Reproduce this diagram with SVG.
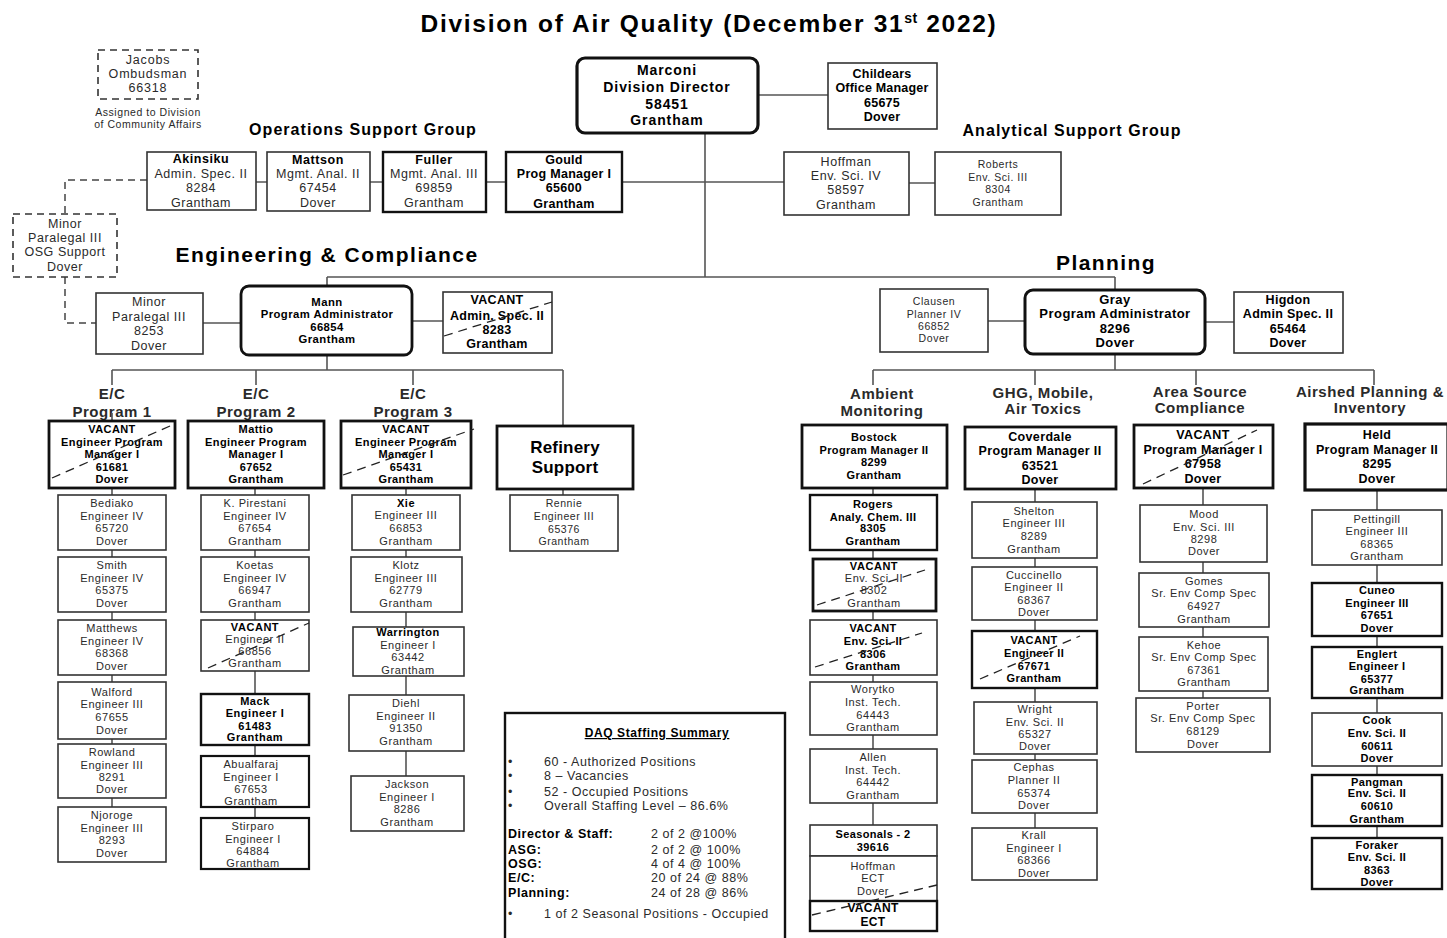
<svg xmlns="http://www.w3.org/2000/svg" width="1447" height="938" viewBox="0 0 1447 938">
<style>
.n{fill:#fff;stroke:#333;stroke-width:1.6}
.k{fill:#fff;stroke:#111;stroke-width:2.8}
.d{fill:#fff;stroke:#333;stroke-width:1.6;stroke-dasharray:7 5}
.v{fill:none;stroke:#222;stroke-width:1.3;stroke-dasharray:9 6}
.c{fill:none;stroke:#555;stroke-width:1.6}
.cd{fill:none;stroke:#444;stroke-width:1.5;stroke-dasharray:7 5}
text{font-family:"Liberation Sans",Arial,Helvetica,sans-serif;text-anchor:middle;fill:#2a2a2a;letter-spacing:0.55px}
.s{font-size:11px}.m{font-size:12.5px}.x{font-size:10.5px}.l{font-size:15px;letter-spacing:0.4px}
.b{font-weight:bold;fill:#000}
.st{text-anchor:start}
.sum{font-size:12.5px;letter-spacing:0.65px}
</style>
<rect width="1447" height="938" fill="#fff"/>
<text x="709" y="32" class="b" style="font-size:24.5px;letter-spacing:1.7px">Division of Air Quality (December 31<tspan dy="-9" style="font-size:14px;letter-spacing:0.5px">st</tspan><tspan dy="9"> 2022)</tspan></text>
<text x="363" y="135" class="b" style="font-size:16px;letter-spacing:1.05px">Operations Support Group</text>
<text x="1072" y="136" class="b" style="font-size:16px;letter-spacing:1.05px">Analytical Support Group</text>
<text x="327" y="262" class="b" style="font-size:21px;letter-spacing:1.5px">Engineering &amp; Compliance</text>
<text x="1106" y="270" class="b" style="font-size:21px;letter-spacing:1.4px">Planning</text>
<text class="x" x="148" y="115.5">Assigned to Division</text>
<text class="x" x="148" y="127.5">of Community Affairs</text>
<g class="b l">
<text x="112" y="399">E/C</text><text x="112" y="417">Program 1</text>
<text x="256" y="399">E/C</text><text x="256" y="417">Program 2</text>
<text x="413" y="399">E/C</text><text x="413" y="417">Program 3</text>
<text x="882" y="399">Ambient</text><text x="882" y="416">Monitoring</text>
<text x="1043" y="398">GHG, Mobile,</text><text x="1043" y="414">Air Toxics</text>
<text x="1200" y="397">Area Source</text><text x="1200" y="413">Compliance</text>
<text x="1370" y="397">Airshed Planning &amp;</text><text x="1370" y="413">Inventory</text>
</g>
<g id="connectors">
<path class="c" d="M705 133V277M327 277H1115M327 277V286M1115 277V290"/>
<path class="c" d="M758 95H828M256 182H267M370 182H383M486 182H506M622 182H784M909 183H935"/>
<path class="c" d="M203 323H241M412 321H443M988 321H1025M1205 322H1234"/>
<path class="cd" d="M147 180H65V214M65 277V323H96"/>
<path class="c" d="M327 355V370M112 370H563M112 370V385M256 370V385M413 370V385M563 370V426M112 413V421"/>
<path class="c" d="M1115 354V370M873 370H1374M873 370V385M1035 370V385M1196 370V385M1374 370V385"/>
<path class="c" d="M112 488V807M255 488V818M406 488V776M563 489V495"/>
<path class="c" d="M873 488V825M1035 489V828M1203 488V698M1377 490V838"/>
</g>
<g id="jacobs"><rect class="d" x="98" y="50" width="100" height="49"/><text class="m" style="letter-spacing:0.8px"><tspan x="148" y="64">Jacobs</tspan><tspan x="148" y="78">Ombudsman</tspan><tspan x="148" y="92">66318</tspan></text></g>
<g id="marconi"><rect class="k" x="577" y="58" width="181" height="75" rx="8" style="stroke-width:3.2"/><text class="b" style="font-size:14px;letter-spacing:0.9px"><tspan x="667" y="75">Marconi</tspan><tspan x="667" y="92">Division Director</tspan><tspan x="667" y="109">58451</tspan><tspan x="667" y="125">Grantham</tspan></text></g>
<g id="childears"><rect class="n" x="828" y="63" width="109" height="66"/><text class="m b" style="letter-spacing:0.2px"><tspan x="882" y="78">Childears</tspan><tspan x="882" y="92">Office Manager</tspan><tspan x="882" y="107">65675</tspan><tspan x="882" y="121">Dover</tspan></text></g>
<g id="akinsiku"><rect class="n" x="147" y="152" width="109" height="58"/><text class="m"><tspan x="201" y="163" class="b">Akinsiku</tspan><tspan x="201" y="178">Admin. Spec. II</tspan><tspan x="201" y="192">8284</tspan><tspan x="201" y="207">Grantham</tspan></text></g>
<g id="mattson"><rect class="n" x="267" y="152" width="103" height="59"/><text class="m"><tspan x="318" y="164" class="b">Mattson</tspan><tspan x="318" y="178">Mgmt. Anal. II</tspan><tspan x="318" y="192">67454</tspan><tspan x="318" y="207">Dover</tspan></text></g>
<g id="fuller"><rect class="k" x="383" y="152" width="103" height="60" style="stroke-width:2.4"/><text class="m"><tspan x="434" y="164" class="b">Fuller</tspan><tspan x="434" y="178">Mgmt. Anal. III</tspan><tspan x="434" y="192">69859</tspan><tspan x="434" y="207">Grantham</tspan></text></g>
<g id="gould"><rect class="k" x="506" y="152" width="116" height="60" style="stroke-width:2.4"/><text class="m b" style="letter-spacing:0.3px"><tspan x="564" y="164">Gould</tspan><tspan x="564" y="178">Prog Manager I</tspan><tspan x="564" y="192">65600</tspan><tspan x="564" y="208">Grantham</tspan></text></g>
<g id="hoffman-asg"><rect class="n" x="784" y="152" width="125" height="63"/><text class="m"><tspan x="846" y="166">Hoffman</tspan><tspan x="846" y="180">Env. Sci. IV</tspan><tspan x="846" y="194">58597</tspan><tspan x="846" y="209">Grantham</tspan></text></g>
<g id="roberts"><rect class="n" x="935" y="152" width="126" height="63"/><text class="x"><tspan x="998" y="168">Roberts</tspan><tspan x="998" y="181">Env. Sci. III</tspan><tspan x="998" y="193">8304</tspan><tspan x="998" y="206">Grantham</tspan></text></g>
<g id="minor-osg"><rect class="d" x="13" y="214" width="104" height="63"/><text class="m"><tspan x="65" y="228">Minor</tspan><tspan x="65" y="242">Paralegal III</tspan><tspan x="65" y="256">OSG Support</tspan><tspan x="65" y="271">Dover</tspan></text></g>
<g id="mann"><rect class="k" x="241" y="286" width="171" height="69" rx="8"/><text class="b" style="font-size:11.3px;letter-spacing:0.45px"><tspan x="327" y="306">Mann</tspan><tspan x="327" y="318">Program Administrator</tspan><tspan x="327" y="331">66854</tspan><tspan x="327" y="343">Grantham</tspan></text></g>
<g id="minor-ec"><rect class="n" x="96" y="293" width="107" height="61"/><text class="m"><tspan x="149" y="306">Minor</tspan><tspan x="149" y="321">Paralegal III</tspan><tspan x="149" y="335">8253</tspan><tspan x="149" y="350">Dover</tspan></text></g>
<g id="vacant-admin"><rect class="n" x="443" y="292" width="109" height="61"/><text class="m b" style="letter-spacing:0.3px"><tspan x="497" y="304">VACANT</tspan><tspan x="497" y="320">Admin. Spec. II</tspan><tspan x="497" y="334">8283</tspan><tspan x="497" y="348">Grantham</tspan></text><line class="v" x1="444" y1="336" x2="552" y2="302"/></g>
<g id="ec-p1"><rect class="k" x="49" y="421" width="126" height="67"/><text class="s b" style="letter-spacing:0.4px"><tspan x="112" y="433">VACANT</tspan><tspan x="112" y="446">Engineer Program</tspan><tspan x="112" y="458">Manager I</tspan><tspan x="112" y="471">61681</tspan><tspan x="112" y="483">Dover</tspan></text><line class="v" x1="52" y1="478" x2="170" y2="426"/></g>
<g id="ec-p2"><rect class="k" x="188" y="421" width="136" height="67"/><text class="s b" style="letter-spacing:0.4px"><tspan x="256" y="433">Mattio</tspan><tspan x="256" y="446">Engineer Program</tspan><tspan x="256" y="458">Manager I</tspan><tspan x="256" y="471">67652</tspan><tspan x="256" y="483">Grantham</tspan></text></g>
<g id="ec-p3"><rect class="k" x="341" y="421" width="130" height="67"/><text class="s b" style="letter-spacing:0.4px"><tspan x="406" y="433">VACANT</tspan><tspan x="406" y="446">Engineer Program</tspan><tspan x="406" y="458">Manager I</tspan><tspan x="406" y="471">65431</tspan><tspan x="406" y="483">Grantham</tspan></text><line class="v" x1="343" y1="475" x2="474" y2="429"/></g>
<g id="refinery"><rect class="k" x="497" y="426" width="136" height="63"/><text class="b" style="font-size:17px;letter-spacing:0.2px"><tspan x="565" y="453">Refinery</tspan><tspan x="565" y="473">Support</tspan></text></g>
<g id="rennie"><rect class="n" x="510" y="495" width="108" height="56"/><text class="x"><tspan x="564" y="507">Rennie</tspan><tspan x="564" y="520">Engineer III</tspan><tspan x="564" y="533">65376</tspan><tspan x="564" y="545">Grantham</tspan></text></g>
<g id="bediako"><rect class="n" x="58" y="495" width="108" height="55"/><text class="s"><tspan x="112" y="507">Bediako</tspan><tspan x="112" y="520">Engineer IV</tspan><tspan x="112" y="532">65720</tspan><tspan x="112" y="545">Dover</tspan></text></g>
<g id="smith"><rect class="n" x="58" y="557" width="108" height="55"/><text class="s"><tspan x="112" y="569">Smith</tspan><tspan x="112" y="582">Engineer IV</tspan><tspan x="112" y="594">65375</tspan><tspan x="112" y="607">Dover</tspan></text></g>
<g id="matthews"><rect class="n" x="58" y="620" width="108" height="55"/><text class="s"><tspan x="112" y="632">Matthews</tspan><tspan x="112" y="645">Engineer IV</tspan><tspan x="112" y="657">68368</tspan><tspan x="112" y="670">Dover</tspan></text></g>
<g id="walford"><rect class="n" x="58" y="682" width="108" height="57"/><text class="s"><tspan x="112" y="696">Walford</tspan><tspan x="112" y="708">Engineer III</tspan><tspan x="112" y="721">67655</tspan><tspan x="112" y="734">Dover</tspan></text></g>
<g id="rowland"><rect class="n" x="58" y="744" width="108" height="54"/><text class="s"><tspan x="112" y="756">Rowland</tspan><tspan x="112" y="769">Engineer III</tspan><tspan x="112" y="781">8291</tspan><tspan x="112" y="793">Dover</tspan></text></g>
<g id="njoroge"><rect class="n" x="58" y="807" width="108" height="55"/><text class="s"><tspan x="112" y="819">Njoroge</tspan><tspan x="112" y="832">Engineer III</tspan><tspan x="112" y="844">8293</tspan><tspan x="112" y="857">Dover</tspan></text></g>
<g id="pirestani"><rect class="n" x="201" y="495" width="108" height="55"/><text class="s"><tspan x="255" y="507">K. Pirestani</tspan><tspan x="255" y="520">Engineer IV</tspan><tspan x="255" y="532">67654</tspan><tspan x="255" y="545">Grantham</tspan></text></g>
<g id="koetas"><rect class="n" x="201" y="557" width="108" height="55"/><text class="s"><tspan x="255" y="569">Koetas</tspan><tspan x="255" y="582">Engineer IV</tspan><tspan x="255" y="594">66947</tspan><tspan x="255" y="607">Grantham</tspan></text></g>
<g id="vacant-66856"><rect class="n" x="201" y="620" width="108" height="51"/><text class="s"><tspan x="255" y="631" class="b">VACANT</tspan><tspan x="255" y="643">Engineer II</tspan><tspan x="255" y="655">66856</tspan><tspan x="255" y="667">Grantham</tspan></text><line class="v" x1="208" y1="668" x2="309" y2="623"/></g>
<g id="mack"><rect class="k" x="201" y="694" width="108" height="51" style="stroke-width:2.4"/><text class="s b"><tspan x="255" y="705">Mack</tspan><tspan x="255" y="717">Engineer  I</tspan><tspan x="255" y="730">61483</tspan><tspan x="255" y="741">Grantham</tspan></text></g>
<g id="abualfaraj"><rect class="k" x="201" y="756" width="108" height="51" style="stroke-width:2.2"/><text class="s"><tspan x="251" y="768">Abualfaraj</tspan><tspan x="251" y="781">Engineer I</tspan><tspan x="251" y="793">67653</tspan><tspan x="251" y="805">Grantham</tspan></text></g>
<g id="stirparo"><rect class="k" x="201" y="818" width="108" height="51" style="stroke-width:2.2"/><text class="s"><tspan x="253" y="830">Stirparo</tspan><tspan x="253" y="843">Engineer I</tspan><tspan x="253" y="855">64884</tspan><tspan x="253" y="867">Grantham</tspan></text></g>
<g id="xie"><rect class="n" x="352" y="495" width="108" height="55"/><text class="s"><tspan x="406" y="507" class="b">Xie</tspan><tspan x="406" y="519">Engineer III</tspan><tspan x="406" y="532">66853</tspan><tspan x="406" y="545">Grantham</tspan></text></g>
<g id="klotz"><rect class="n" x="351" y="557" width="111" height="55"/><text class="s"><tspan x="406" y="569">Klotz</tspan><tspan x="406" y="582">Engineer III</tspan><tspan x="406" y="594">62779</tspan><tspan x="406" y="607">Grantham</tspan></text></g>
<g id="warrington"><rect class="n" x="353" y="627" width="111" height="49"/><text class="s"><tspan x="408" y="636" class="b">Warrington</tspan><tspan x="408" y="649">Engineer I</tspan><tspan x="408" y="661">63442</tspan><tspan x="408" y="674">Grantham</tspan></text></g>
<g id="diehl"><rect class="n" x="349" y="695" width="115" height="56"/><text class="s"><tspan x="406" y="707">Diehl</tspan><tspan x="406" y="720">Engineer II</tspan><tspan x="406" y="732">91350</tspan><tspan x="406" y="745">Grantham</tspan></text></g>
<g id="jackson"><rect class="n" x="351" y="776" width="113" height="55"/><text class="s"><tspan x="407" y="788">Jackson</tspan><tspan x="407" y="801">Engineer I</tspan><tspan x="407" y="813">8286</tspan><tspan x="407" y="826">Grantham</tspan></text></g>
<g id="summary"><rect class="k" x="505" y="713" width="280" height="235" style="stroke-width:2.4"/>
<text x="657" y="737" class="b" style="font-size:12px;text-decoration:underline;letter-spacing:0.6px">DAQ Staffing Summary</text>
<g class="sum">
<text class="st" x="508" y="766">•</text><text class="st" x="544" y="766">60 - Authorized Positions</text>
<text class="st" x="508" y="780">•</text><text class="st" x="544" y="780">8 – Vacancies</text>
<text class="st" x="508" y="796">•</text><text class="st" x="544" y="796">52 - Occupied Positions</text>
<text class="st" x="508" y="810">•</text><text class="st" x="544" y="810">Overall Staffing Level – 86.6%</text>
<text class="st b" x="508" y="838">Director &amp; Staff:</text><text class="st" x="651" y="838">2 of 2 @100%</text>
<text class="st b" x="508" y="854">ASG:</text><text class="st" x="651" y="854">2 of 2 @ 100%</text>
<text class="st b" x="508" y="868">OSG:</text><text class="st" x="651" y="868">4 of 4 @ 100%</text>
<text class="st b" x="508" y="882">E/C:</text><text class="st" x="651" y="882">20 of 24 @ 88%</text>
<text class="st b" x="508" y="897">Planning:</text><text class="st" x="651" y="897">24 of 28 @ 86%</text>
<text class="st" x="508" y="918">•</text><text class="st" x="544" y="918">1 of 2 Seasonal Positions - Occupied</text>
</g></g>
<g id="gray"><rect class="k" x="1025" y="290" width="180" height="64" rx="8" style="stroke-width:3"/><text class="b" style="font-size:13px;letter-spacing:0.45px"><tspan x="1115" y="304">Gray</tspan><tspan x="1115" y="318">Program Administrator</tspan><tspan x="1115" y="333">8296</tspan><tspan x="1115" y="347">Dover</tspan></text></g>
<g id="clausen"><rect class="n" x="880" y="289" width="108" height="63"/><text class="x"><tspan x="934" y="305">Clausen</tspan><tspan x="934" y="318">Planner IV</tspan><tspan x="934" y="330">66852</tspan><tspan x="934" y="342">Dover</tspan></text></g>
<g id="higdon"><rect class="n" x="1234" y="292" width="109" height="61"/><text class="m b" style="letter-spacing:0.3px"><tspan x="1288" y="304">Higdon</tspan><tspan x="1288" y="318">Admin Spec. II</tspan><tspan x="1288" y="333">65464</tspan><tspan x="1288" y="347">Dover</tspan></text></g>
<g id="bostock"><rect class="k" x="802" y="425" width="145" height="63"/><text class="s b" style="letter-spacing:0.35px"><tspan x="874" y="441">Bostock</tspan><tspan x="874" y="454">Program Manager II</tspan><tspan x="874" y="466">8299</tspan><tspan x="874" y="479">Grantham</tspan></text></g>
<g id="rogers"><rect class="k" x="810" y="495" width="127" height="55" style="stroke-width:2.4"/><text class="s b" style="letter-spacing:0.35px"><tspan x="873" y="508">Rogers</tspan><tspan x="873" y="521">Analy. Chem. III</tspan><tspan x="873" y="532">8305</tspan><tspan x="873" y="545">Grantham</tspan></text></g>
<g id="vacant-8302"><rect class="k" x="813" y="559" width="123" height="52"/><text class="s"><tspan x="874" y="570" class="b">VACANT</tspan><tspan x="874" y="582">Env. Sci. II</tspan><tspan x="874" y="594">8302</tspan><tspan x="874" y="607">Grantham</tspan></text><line class="v" x1="817" y1="605" x2="925" y2="570"/></g>
<g id="vacant-8306"><rect class="n" x="810" y="620" width="127" height="55"/><text class="s b" style="letter-spacing:0.35px"><tspan x="873" y="632">VACANT</tspan><tspan x="873" y="645">Env. Sci. II</tspan><tspan x="873" y="658">8306</tspan><tspan x="873" y="670">Grantham</tspan></text><line class="v" x1="815" y1="667" x2="922" y2="633"/></g>
<g id="worytko"><rect class="n" x="810" y="682" width="127" height="53"/><text class="s"><tspan x="873" y="693">Worytko</tspan><tspan x="873" y="706">Inst. Tech.</tspan><tspan x="873" y="719">64443</tspan><tspan x="873" y="731">Grantham</tspan></text></g>
<g id="allen"><rect class="n" x="810" y="749" width="127" height="54"/><text class="s"><tspan x="873" y="761">Allen</tspan><tspan x="873" y="774">Inst. Tech.</tspan><tspan x="873" y="786">64442</tspan><tspan x="873" y="799">Grantham</tspan></text></g>
<g id="seasonals"><rect class="n" x="810" y="825" width="127" height="31"/><text class="s b" style="letter-spacing:0.35px"><tspan x="873" y="838">Seasonals - 2</tspan><tspan x="873" y="851">39616</tspan></text></g>
<g id="hoffman-ect"><rect class="n" x="810" y="856" width="127" height="45"/><text class="s"><tspan x="873" y="870">Hoffman</tspan><tspan x="873" y="882">ECT</tspan><tspan x="873" y="895">Dover</tspan></text></g>
<g id="vacant-ect"><rect class="k" x="810" y="901" width="127" height="30" style="stroke-width:2.4"/><text class="b" style="font-size:12px;letter-spacing:0.35px"><tspan x="873" y="912">VACANT</tspan><tspan x="873" y="926">ECT</tspan></text><line class="v" x1="812" y1="915" x2="937" y2="885"/></g>
<g id="coverdale"><rect class="k" x="965" y="427" width="151" height="62"/><text class="m b" style="letter-spacing:0.35px"><tspan x="1040" y="441">Coverdale</tspan><tspan x="1040" y="455">Program Manager II</tspan><tspan x="1040" y="470">63521</tspan><tspan x="1040" y="484">Dover</tspan></text></g>
<g id="shelton"><rect class="n" x="972" y="502" width="125" height="56"/><text class="s"><tspan x="1034" y="515">Shelton</tspan><tspan x="1034" y="527">Engineer III</tspan><tspan x="1034" y="540">8289</tspan><tspan x="1034" y="553">Grantham</tspan></text></g>
<g id="cuccinello"><rect class="n" x="972" y="567" width="125" height="53"/><text class="s"><tspan x="1034" y="579">Cuccinello</tspan><tspan x="1034" y="591">Engineer II</tspan><tspan x="1034" y="604">68367</tspan><tspan x="1034" y="616">Dover</tspan></text></g>
<g id="vacant-67671"><rect class="k" x="972" y="631" width="125" height="57" style="stroke-width:2.4"/><text class="s b" style="letter-spacing:0.35px"><tspan x="1034" y="644">VACANT</tspan><tspan x="1034" y="657">Engineer II</tspan><tspan x="1034" y="670">67671</tspan><tspan x="1034" y="682">Grantham</tspan></text><line class="v" x1="980" y1="679" x2="1080" y2="636"/></g>
<g id="wright"><rect class="n" x="974" y="702" width="123" height="52"/><text class="s"><tspan x="1035" y="713">Wright</tspan><tspan x="1035" y="726">Env. Sci. II</tspan><tspan x="1035" y="738">65327</tspan><tspan x="1035" y="750">Dover</tspan></text></g>
<g id="cephas"><rect class="n" x="972" y="760" width="125" height="53"/><text class="s"><tspan x="1034" y="771">Cephas</tspan><tspan x="1034" y="784">Planner II</tspan><tspan x="1034" y="797">65374</tspan><tspan x="1034" y="809">Dover</tspan></text></g>
<g id="krall"><rect class="n" x="972" y="828" width="125" height="52"/><text class="s"><tspan x="1034" y="839">Krall</tspan><tspan x="1034" y="852">Engineer I</tspan><tspan x="1034" y="864">68366</tspan><tspan x="1034" y="877">Dover</tspan></text></g>
<g id="vacant-67958"><rect class="k" x="1134" y="425" width="139" height="63"/><text class="m b" style="letter-spacing:0.35px"><tspan x="1203" y="439">VACANT</tspan><tspan x="1203" y="454">Program Manager I</tspan><tspan x="1203" y="468">67958</tspan><tspan x="1203" y="483">Dover</tspan></text><line class="v" x1="1143" y1="484" x2="1257" y2="430"/></g>
<g id="mood"><rect class="n" x="1140" y="505" width="127" height="57"/><text class="s"><tspan x="1204" y="518">Mood</tspan><tspan x="1204" y="531">Env. Sci. III</tspan><tspan x="1204" y="543">8298</tspan><tspan x="1204" y="555">Dover</tspan></text></g>
<g id="gomes"><rect class="n" x="1139" y="573" width="130" height="54"/><text class="s"><tspan x="1204" y="585">Gomes</tspan><tspan x="1204" y="597">Sr. Env Comp Spec</tspan><tspan x="1204" y="610">64927</tspan><tspan x="1204" y="623">Grantham</tspan></text></g>
<g id="kehoe"><rect class="n" x="1139" y="637" width="129" height="54"/><text class="s"><tspan x="1204" y="649">Kehoe</tspan><tspan x="1204" y="661">Sr. Env Comp Spec</tspan><tspan x="1204" y="674">67361</tspan><tspan x="1204" y="686">Grantham</tspan></text></g>
<g id="porter"><rect class="n" x="1136" y="698" width="134" height="54"/><text class="s"><tspan x="1203" y="710">Porter</tspan><tspan x="1203" y="722">Sr. Env Comp Spec</tspan><tspan x="1203" y="735">68129</tspan><tspan x="1203" y="748">Dover</tspan></text></g>
<g id="held"><rect class="k" x="1305" y="424" width="143" height="66" style="stroke-width:3.2"/><text class="m b" style="letter-spacing:0.3px"><tspan x="1377" y="439">Held</tspan><tspan x="1377" y="454">Program Manager II</tspan><tspan x="1377" y="468">8295</tspan><tspan x="1377" y="483">Dover</tspan></text></g>
<g id="pettingill"><rect class="n" x="1312" y="510" width="130" height="55"/><text class="s"><tspan x="1377" y="523">Pettingill</tspan><tspan x="1377" y="535">Engineer III</tspan><tspan x="1377" y="548">68365</tspan><tspan x="1377" y="560">Grantham</tspan></text></g>
<g id="cuneo"><rect class="k" x="1312" y="583" width="130" height="53" style="stroke-width:2.4"/><text class="s b" style="letter-spacing:0.35px"><tspan x="1377" y="594">Cuneo</tspan><tspan x="1377" y="607">Engineer III</tspan><tspan x="1377" y="619">67651</tspan><tspan x="1377" y="632">Dover</tspan></text></g>
<g id="englert"><rect class="k" x="1312" y="647" width="130" height="51" style="stroke-width:2.4"/><text class="s b" style="letter-spacing:0.35px"><tspan x="1377" y="658">Englert</tspan><tspan x="1377" y="670">Engineer I</tspan><tspan x="1377" y="683">65377</tspan><tspan x="1377" y="694">Grantham</tspan></text></g>
<g id="cook"><rect class="n" x="1312" y="713" width="130" height="53"/><text class="s b" style="letter-spacing:0.35px"><tspan x="1377" y="724">Cook</tspan><tspan x="1377" y="737">Env. Sci. II</tspan><tspan x="1377" y="750">60611</tspan><tspan x="1377" y="762">Dover</tspan></text></g>
<g id="pangman"><rect class="k" x="1312" y="775" width="130" height="51" style="stroke-width:2.4"/><text class="s b" style="letter-spacing:0.35px"><tspan x="1377" y="786">Pangman</tspan><tspan x="1377" y="797">Env. Sci. II</tspan><tspan x="1377" y="810">60610</tspan><tspan x="1377" y="823">Grantham</tspan></text></g>
<g id="foraker"><rect class="k" x="1312" y="838" width="130" height="51" style="stroke-width:2.4"/><text class="s b" style="letter-spacing:0.35px"><tspan x="1377" y="849">Foraker</tspan><tspan x="1377" y="861">Env. Sci. II</tspan><tspan x="1377" y="874">8363</tspan><tspan x="1377" y="886">Dover</tspan></text></g>
</svg>
